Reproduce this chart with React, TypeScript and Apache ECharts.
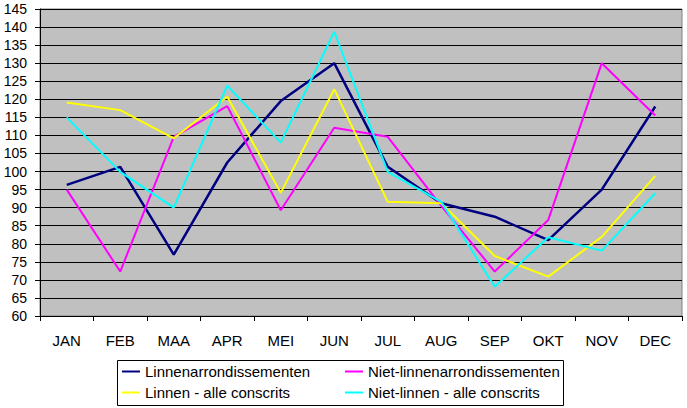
import React, { useEffect, useRef } from "react";
import * as echarts from "echarts";

const months = ["JAN", "FEB", "MAA", "APR", "MEI", "JUN", "JUL", "AUG", "SEP", "OKT", "NOV", "DEC"];
const linnenArr = [96.3, 101.3, 77, 102.5, 119.5, 130, 101.3, 91.2, 87.5, 81, 95, 118];
const nietLinnenArr = [95, 72.3, 109.6, 118.1, 89.3, 112.1, 109.6, 90.5, 72.3, 86.6, 130, 115.5];
const linnenAlle = [119.1, 117, 109.2, 120.7, 94.1, 122.8, 91.6, 91.2, 76.6, 70.9, 81.9, 98.8];
const nietLinnenAlle = [115, 99.9, 90, 123.8, 108, 138.7, 99.9, 91.6, 68.1, 81.8, 78.1, 94];

const seriesNames = [
  "Linnenarrondissementen",
  "Niet-linnenarrondissementen",
  "Linnen - alle conscrits",
  "Niet-linnen - alle conscrits",
];
const seriesData = [linnenArr, nietLinnenArr, linnenAlle, nietLinnenAlle];
const seriesColors = ["#000080", "#FF00FF", "#FFFF00", "#00FFFF"];

const FONT = "Arial, 'Liberation Sans', sans-serif";

export default function App() {
  const ref = useRef<HTMLDivElement>(null);
  useEffect(() => {
    if (!ref.current) return;
    const chart = echarts.init(ref.current, null, { renderer: "svg" });
    const legendText = { fontFamily: FONT, fontSize: 15, color: "#000" };
    chart.setOption({
      animation: false,
      backgroundColor: "#fff",
      grid: {
        left: 40,
        top: 9,
        right: 5,
        bottom: 92,
        show: true,
        backgroundColor: "#C0C0C0",
        borderColor: "#808080",
        borderWidth: 1,
      },
      xAxis: {
        type: "category",
        data: months,
        boundaryGap: true,
        axisLine: { show: true, lineStyle: { color: "#000", width: 1 } },
        axisTick: { show: true, length: 5, inside: false, lineStyle: { color: "#000" } },
        axisLabel: { fontFamily: FONT, fontSize: 15, color: "#000", margin: 17 },
        splitLine: { show: false },
      },
      yAxis: {
        type: "value",
        min: 60,
        max: 145,
        interval: 5,
        axisLine: { show: true, lineStyle: { color: "#000", width: 1 } },
        axisTick: { show: true, length: 5, lineStyle: { color: "#000" } },
        axisLabel: { fontFamily: FONT, fontSize: 14, color: "#000", margin: 13 },
        splitLine: { show: true, lineStyle: { color: "#000", width: 1 } },
      },
      legend: [
        {
          data: [seriesNames[0], seriesNames[2]],
          orient: "vertical",
          left: 122,
          top: 364,
          padding: 0,
          itemWidth: 18,
          itemHeight: 2,
          itemGap: 6,
          icon: "rect",
          textStyle: legendText,
        },
        {
          data: [seriesNames[1], seriesNames[3]],
          orient: "vertical",
          left: 345,
          top: 364,
          padding: 0,
          itemWidth: 18,
          itemHeight: 2,
          itemGap: 6,
          icon: "rect",
          textStyle: legendText,
        },
      ],
      graphic: [
        {
          type: "rect",
          shape: { x: 117.5, y: 360.5, width: 446, height: 45 },
          style: { fill: "none", stroke: "#000", lineWidth: 1 },
          z: 100,
        },
      ],
      series: seriesNames.map((name, i) => ({
        name,
        type: "line",
        data: seriesData[i],
        symbol: "none",
        lineStyle: { color: seriesColors[i], width: i === 0 ? 2.5 : 2 },
        itemStyle: { color: seriesColors[i] },
      })),
    });
    return () => chart.dispose();
  }, []);
  return (
    <div
      ref={ref}
      style={{ position: "fixed", left: 0, top: 0, width: 687, height: 408 }}
    />
  );
}
